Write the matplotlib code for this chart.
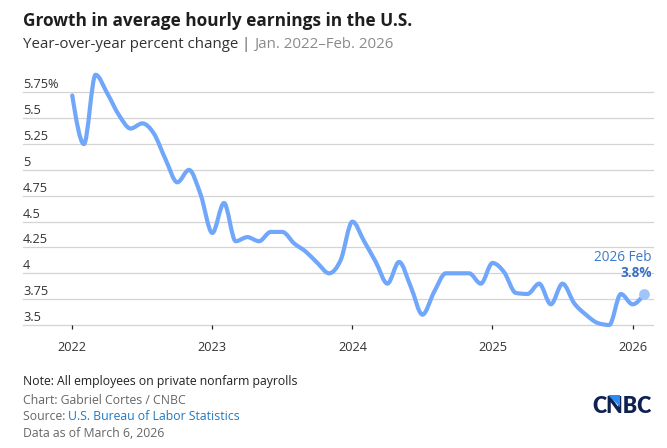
import numpy as np
import matplotlib
matplotlib.use("Agg")
import matplotlib.pyplot as plt
from matplotlib.path import Path
from matplotlib.patches import PathPatch, Polygon
from matplotlib import transforms

plt.rcParams['font.family'] = ['Open Sans', 'DejaVu Sans']

# ---- data ----
months = list(range(50))  # Jan 2022 .. Feb 2026 (month index)
values = [5.72, 5.25, 5.92, 5.74, 5.53, 5.40, 5.45, 5.35, 5.10, 4.88, 5.00, 4.76,
          4.39, 4.68, 4.31, 4.35, 4.31, 4.40, 4.40, 4.29, 4.21, 4.10, 4.00, 4.13,
          4.50, 4.31, 4.11, 3.90, 4.11, 3.87, 3.60, 3.82, 4.00, 4.00, 4.00, 3.90,
          4.10, 4.01, 3.81, 3.80, 3.90, 3.70, 3.90, 3.71, 3.60, 3.52, 3.50, 3.80,
          3.70, 3.80]
year_ticks = [0, 12, 24, 36, 48]
year_labels = ['2022', '2023', '2024', '2025', '2026']
y_ticks = [3.5, 3.75, 4, 4.25, 4.5, 4.75, 5, 5.25, 5.5, 5.75]
y_labels = ['3.5', '3.75', '4', '4.25', '4.5', '4.75', '5', '5.25', '5.5', '5.75%']

W, H = 667, 448
fig = plt.figure(figsize=(W / 100, H / 100), dpi=100)

def fx(px):
    return px / W

def fy(py):
    return 1 - py / H

ax_left, ax_right, ax_top, ax_bot = 23, 653, 70, 325
ax = fig.add_axes([fx(ax_left), fy(ax_bot), fx(ax_right - ax_left), (ax_bot - ax_top) / H])
ax.set_xlim(-4.22, 49.75)
ax.set_ylim(3.5, 3.5 + (ax_bot - ax_top) / 103.4)
for s in ax.spines.values():
    s.set_visible(False)
ax.set_facecolor('none')

# gridlines
for v in y_ticks:
    ax.axhline(v, color='#d4d4d4', lw=0.9, zorder=1, clip_on=False)

ax.set_yticks([])
ax.set_xticks(year_ticks)
ax.set_xticklabels(year_labels)
ax.tick_params(axis='x', length=3.2, width=0.9, color='#222222', direction='out',
               pad=8, labelsize=9.2, labelcolor='#333333')

# y labels above gridlines
trans = transforms.blended_transform_factory(ax.transAxes, ax.transData)
off = transforms.offset_copy(trans, fig=fig, x=0, y=4, units='dots')
for v, lab in zip(y_ticks, y_labels):
    ax.text(0, v, lab, transform=off, ha='left', va='baseline', fontsize=9.2,
            color='#333333')

# monotone-x curve (d3 style)
x = np.array(months, dtype=float)
y = np.array(values, dtype=float)
n = len(x)
h = np.diff(x)
s = np.diff(y) / h
t = np.zeros(n)
for i in range(1, n - 1):
    p = (s[i - 1] * h[i] + s[i] * h[i - 1]) / (h[i - 1] + h[i])
    t[i] = (np.sign(s[i - 1]) + np.sign(s[i])) * min(abs(s[i - 1]), abs(s[i]), 0.5 * abs(p))
t[0] = (3 * s[0] - t[1]) / 2
t[-1] = (3 * s[-1] - t[-2]) / 2
verts = [(x[0], y[0])]
codes = [Path.MOVETO]
for i in range(n - 1):
    dx = (x[i + 1] - x[i]) / 3
    verts += [(x[i] + dx, y[i] + dx * t[i]), (x[i + 1] - dx, y[i + 1] - dx * t[i + 1]),
              (x[i + 1], y[i + 1])]
    codes += [Path.CURVE4] * 3
patch = PathPatch(Path(verts, codes), fill=False, edgecolor='#70a7fb', lw=3.0,
                  capstyle='round', joinstyle='round', zorder=3, clip_on=False)
ax.add_patch(patch)

ax.scatter([months[-1]], [values[-1]], s=60, color='#9fc5fb', zorder=4, clip_on=False,
           linewidths=0)

# annotation
ax.text(fx(652), fy(260.7), '2026 Feb', transform=fig.transFigure, ha='right',
        va='baseline', fontsize=9.8, color='#3d78c9')
ax.text(fx(652), fy(277), '3.8%', transform=fig.transFigure, ha='right',
        va='baseline', fontsize=9.8, color='#3a70c4', fontweight='bold')

# titles
fig.text(fx(23), fy(26.5), 'Growth in average hourly earnings in the U.S.', fontsize=12.4,
         fontweight='bold', color='#1e1e1e', va='baseline', ha='left')
t1 = fig.text(fx(23), fy(48), 'Year-over-year percent change ', fontsize=10.8,
              color='#333333', va='baseline', ha='left')
t2 = ax.annotate('| ', xy=(1, 0), xycoords=t1, va='bottom', ha='left', fontsize=10.8,
                 color='#555555', annotation_clip=False)
ax.annotate('Jan. 2022\u2013Feb. 2026', xy=(1, 0), xycoords=t2, va='bottom', ha='left',
            fontsize=10.8, color='#8a8a8a', annotation_clip=False)

# footer
fs = 8.8
fig.text(fx(23), fy(385), 'Note: All employees on private nonfarm payrolls', fontsize=fs,
         color='#222222', va='baseline')
fig.text(fx(23), fy(404), 'Chart: Gabriel Cortes / CNBC', fontsize=fs,
         color='#666666', va='baseline')
s1 = fig.text(fx(23), fy(420), 'Source: ', fontsize=fs, color='#666666', va='baseline')
ax.annotate('U.S. Bureau of Labor Statistics', xy=(1, 0), xycoords=s1, va='bottom',
            ha='left', fontsize=fs, color='#1f7ac4', annotation_clip=False)
fig.text(fx(23), fy(437), 'Data as of March 6, 2026', fontsize=fs,
         color='#666666', va='baseline')

# CNBC logo
fig.text(fx(652), fy(413), 'CNBC', fontsize=15.5, fontweight='heavy', color='#0f2150',
         ha='right', va='baseline', family=['Lato', 'DejaVu Sans'])
tri = Polygon([(fx(608), fy(395)), (fx(619.5), fy(395)), (fx(619.5), fy(407))],
              closed=True, transform=fig.transFigure, facecolor='#2a8cf0',
              edgecolor='none', zorder=10)
fig.add_artist(tri)

fig.savefig('out.png', dpi=100)
